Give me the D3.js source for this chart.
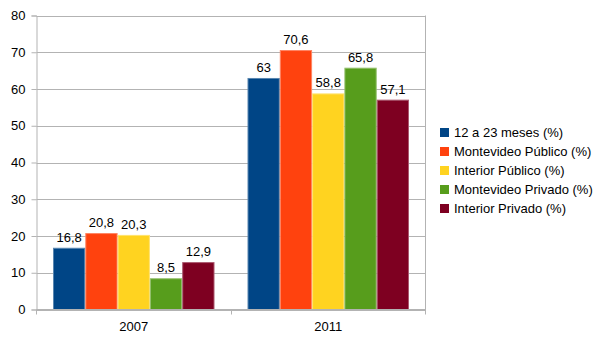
<!DOCTYPE html>
<html>
<head>
<meta charset="utf-8">
<script src="https://cdn.jsdelivr.net/npm/d3@7/dist/d3.min.js"></script>
<style>
  html, body { margin: 0; padding: 0; background: #fff; }
  svg { display: block; font-family: "Liberation Sans", Arial, sans-serif; }
</style>
</head>
<body>
<svg id="chart" width="605" height="340"></svg>
<script>
const years = ["2007", "2011"];
const seriesNames = [
  "12 a 23 meses (%)",
  "Montevideo Público (%)",
  "Interior Público (%)",
  "Montevideo Privado (%)",
  "Interior Privado (%)"
];
const values2007 = [16.8, 20.8, 20.3, 8.5, 12.9];
const values2011 = [63, 70.6, 58.8, 65.8, 57.1];
const colors = ["#004586", "#ff420e", "#ffd320", "#579d1c", "#7e0021"];
const yTicks = [0, 10, 20, 30, 40, 50, 60, 70, 80];

const valuesByYear = [values2007, values2011];

const svg = d3.select("#chart");
const plot = { left: 36.5, right: 425.5, top: 15.5, bottom: 309.5 };

const y = d3.scaleLinear().domain([0, 80]).range([plot.bottom, plot.top]);
const x0 = d3.scaleBand().domain(years).range([plot.left, plot.right]).padding(0);
const groupPad = 16.5;
const x1 = d3.scaleBand().domain(d3.range(seriesNames.length))
  .range([groupPad, x0.bandwidth() - groupPad]).padding(0);

// horizontal gridlines
svg.append("g").selectAll("line").data(yTicks).join("line")
  .attr("x1", plot.left).attr("x2", plot.right)
  .attr("y1", d => Math.round(y(d)) + 0.5).attr("y2", d => Math.round(y(d)) + 0.5)
  .attr("stroke", "#b3b3b3").attr("stroke-width", 1);

// y axis
const yAxis = d3.axisLeft(y).tickValues(yTicks).tickSize(5).tickPadding(6).tickFormat(d3.format("d"));
const gy = svg.append("g").attr("transform", `translate(${plot.left},0)`).call(yAxis);
gy.select(".domain").attr("stroke", "#b3b3b3");
gy.selectAll(".tick line").attr("stroke", "#b3b3b3");
gy.selectAll(".tick text").attr("font-size", 13).attr("fill", "#000")
  .attr("font-family", "Liberation Sans, Arial, sans-serif");

// bars
const groups = svg.append("g").selectAll("g").data(years).join("g")
  .attr("transform", d => `translate(${x0(d)},0)`);

groups.selectAll("rect")
  .data((d, i) => valuesByYear[i].map((v, j) => ({ v, j })))
  .join("rect")
  .attr("x", d => x1(d.j) + 0.5)
  .attr("width", x1.bandwidth() - 1)
  .attr("y", d => y(d.v) + 0.5)
  .attr("height", d => y(0) - y(d.v) - 0.5)
  .attr("fill", d => colors[d.j])
  .attr("stroke", d => d3.interpolateRgb(colors[d.j], "#ffffff")(0.35))
  .attr("stroke-width", 1);

const fmt = v => String(v).replace(".", ",");
groups.selectAll("text")
  .data((d, i) => valuesByYear[i].map((v, j) => ({ v, j })))
  .join("text")
  .attr("x", d => x1(d.j) + x1.bandwidth() / 2)
  .attr("y", d => y(d.v) - 6)
  .attr("text-anchor", "middle")
  .attr("font-size", 13)
  .attr("fill", "#000")
  .text(d => fmt(d.v));

// x axis and plot frame edge
svg.append("line")
  .attr("x1", plot.left).attr("x2", plot.right)
  .attr("y1", plot.bottom).attr("y2", plot.bottom)
  .attr("stroke", "#b3b3b3");
svg.append("line")
  .attr("x1", plot.right).attr("x2", plot.right)
  .attr("y1", plot.top).attr("y2", plot.bottom + 5)
  .attr("stroke", "#b3b3b3");
const xBounds = years.map(d => x0(d));
svg.append("g").selectAll("line").data(xBounds).join("line")
  .attr("x1", d => Math.round(d - 0.5) + 0.5).attr("x2", d => Math.round(d - 0.5) + 0.5)
  .attr("y1", plot.bottom).attr("y2", plot.bottom + 5)
  .attr("stroke", "#b3b3b3");
svg.append("g").selectAll("text").data(years).join("text")
  .attr("x", d => x0(d) + x0.bandwidth() / 2)
  .attr("y", 331)
  .attr("text-anchor", "middle")
  .attr("font-size", 13)
  .attr("fill", "#000")
  .text(d => d);

// legend
const legend = svg.append("g").selectAll("g").data(seriesNames).join("g")
  .attr("transform", (d, i) => `translate(440,${132.5 + i * 19})`);
legend.append("rect")
  .attr("x", 0).attr("y", -4.5).attr("width", 9).attr("height", 9)
  .attr("fill", (d, i) => colors[i]);
legend.append("text")
  .attr("x", 14).attr("y", 4.7)
  .attr("font-size", 13).attr("fill", "#000")
  .text(d => d);
</script>
</body>
</html>
